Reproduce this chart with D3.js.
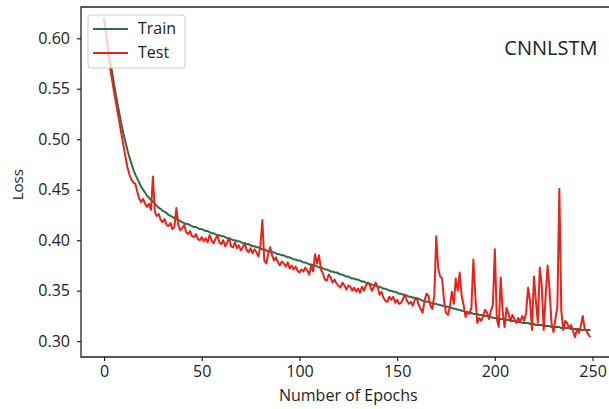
<!DOCTYPE html>
<html>
<head>
<meta charset="utf-8">
<script src="https://cdn.jsdelivr.net/npm/d3@7"></script>
<style>
body { margin: 0; background: #fff; overflow: hidden; }
svg { display: block; overflow: hidden; }
text { font-family: "Open Sans", "Noto Sans", sans-serif; fill: #222; }
</style>
</head>
<body>
<div id="chart"></div>
<script>
// loss per epoch (epochs 0..249)
let trainLoss = [
0.620,0.605,0.592,0.580,0.568,0.556,0.545,0.534,0.524,0.514,
0.505,0.497,0.489,0.482,0.476,0.470,0.465,0.461,0.457,0.453,
0.450,0.447,0.444,0.442,0.440,0.438,0.436,0.434,0.432,0.431,
0.429,0.428,0.427,0.425,0.424,0.423,0.422,0.421,0.420,0.419,
0.418,0.417,0.416,0.416,0.415,0.414,0.413,0.413,0.412,0.411,
0.411,0.410,0.409,0.409,0.408,0.407,0.407,0.406,0.405,0.405,
0.404,0.404,0.403,0.402,0.402,0.401,0.400,0.400,0.399,0.399,
0.398,0.397,0.397,0.396,0.396,0.395,0.394,0.394,0.393,0.393,
0.392,0.391,0.391,0.390,0.389,0.389,0.388,0.388,0.387,0.386,
0.386,0.385,0.385,0.384,0.383,0.383,0.382,0.381,0.381,0.380,
0.380,0.379,0.378,0.378,0.377,0.376,0.376,0.375,0.375,0.374,
0.373,0.373,0.372,0.371,0.371,0.370,0.369,0.369,0.368,0.368,
0.367,0.366,0.366,0.365,0.364,0.364,0.363,0.362,0.362,0.361,
0.361,0.360,0.359,0.359,0.358,0.357,0.357,0.356,0.355,0.355,
0.354,0.354,0.353,0.352,0.352,0.351,0.350,0.350,0.349,0.349,
0.348,0.347,0.347,0.346,0.346,0.345,0.344,0.344,0.343,0.343,
0.342,0.342,0.341,0.340,0.340,0.339,0.339,0.338,0.338,0.337,
0.337,0.336,0.336,0.335,0.335,0.334,0.334,0.333,0.333,0.332,
0.332,0.331,0.331,0.330,0.330,0.329,0.329,0.328,0.328,0.327,
0.327,0.327,0.326,0.326,0.325,0.325,0.325,0.324,0.324,0.323,
0.323,0.323,0.322,0.322,0.322,0.321,0.321,0.321,0.320,0.320,
0.320,0.319,0.319,0.319,0.318,0.318,0.318,0.318,0.317,0.317,
0.317,0.316,0.316,0.316,0.316,0.315,0.315,0.315,0.315,0.314,
0.314,0.314,0.314,0.314,0.313,0.313,0.313,0.313,0.313,0.312,
0.312,0.312,0.312,0.312,0.311,0.311,0.311,0.311,0.311,0.311
];
let testLoss = [
0.620,0.603,0.587,0.572,0.560,0.548,0.537,0.526,0.515,0.504,
0.493,0.482,0.472,0.465,0.460,0.457,0.456,0.448,0.441,0.438,
0.441,0.436,0.433,0.436,0.430,0.463,0.428,0.424,0.426,0.420,
0.418,0.421,0.415,0.414,0.417,0.411,0.413,0.432,0.415,0.410,
0.412,0.415,0.408,0.406,0.409,0.404,0.403,0.406,0.401,0.400,
0.403,0.399,0.402,0.398,0.405,0.400,0.397,0.401,0.405,0.398,
0.396,0.400,0.394,0.398,0.402,0.394,0.393,0.398,0.392,0.395,
0.390,0.393,0.397,0.390,0.388,0.392,0.387,0.391,0.388,0.384,
0.394,0.420,0.380,0.377,0.386,0.393,0.385,0.380,0.383,0.378,
0.375,0.379,0.377,0.374,0.378,0.372,0.375,0.371,0.374,0.370,
0.368,0.371,0.369,0.373,0.370,0.366,0.375,0.369,0.386,0.377,
0.385,0.371,0.367,0.361,0.360,0.366,0.363,0.358,0.361,0.357,
0.355,0.353,0.358,0.355,0.351,0.355,0.354,0.350,0.353,0.349,
0.352,0.348,0.354,0.350,0.355,0.358,0.356,0.350,0.353,0.358,
0.354,0.346,0.349,0.343,0.340,0.339,0.344,0.341,0.344,0.338,
0.341,0.337,0.338,0.342,0.346,0.340,0.337,0.339,0.335,0.341,
0.343,0.336,0.332,0.328,0.340,0.347,0.345,0.335,0.332,0.345,
0.404,0.372,0.364,0.362,0.340,0.328,0.326,0.334,0.349,0.337,
0.362,0.350,0.368,0.345,0.336,0.324,0.329,0.327,0.333,0.381,
0.345,0.318,0.323,0.320,0.325,0.331,0.328,0.322,0.330,0.336,
0.391,0.322,0.314,0.363,0.329,0.314,0.333,0.327,0.320,0.326,
0.322,0.318,0.323,0.319,0.325,0.320,0.328,0.353,0.340,0.311,
0.364,0.340,0.318,0.373,0.355,0.311,0.345,0.375,0.350,0.318,
0.309,0.322,0.334,0.451,0.330,0.311,0.320,0.318,0.313,0.316,
0.310,0.304,0.312,0.308,0.315,0.325,0.312,0.310,0.306,0.304
];
let seriesNames = ["Train", "Test"];
let seriesColors = ["#2f6b47", "#e8231b"];
let xTicks = [0, 50, 100, 150, 200, 250];
let yTicks = [0.30, 0.35, 0.40, 0.45, 0.50, 0.55, 0.60];
let modelName = "CNNLSTM";

function chartConfig(){
    let width = 609, height = 409;
    // plot box; the right spine falls outside the picture
    let margin = { left: 81, top: 7, right: -7, bottom: 52 };
    let bodyWidth = width - margin.left - margin.right;
    let bodyHeight = height - margin.top - margin.bottom;
    let svg = d3.select("#chart").append("svg")
        .attr("width", width)
        .attr("height", height);
    let container = svg.append("g")
        .attr("transform", "translate(" + [margin.left, margin.top] + ")");
    return { width, height, margin, bodyWidth, bodyHeight, svg, container };
}

function chartScales(config){
    let { bodyWidth, bodyHeight } = config;
    let xScale = d3.scaleLinear().domain([-11.8, 262]).range([0, bodyWidth]);
    let yScale = d3.scaleLinear().domain([0.2843, 0.631]).range([bodyHeight, 0]);
    return { xScale, yScale };
}

function drawChart(config, scales){
    let { container, svg, bodyWidth, bodyHeight, margin } = config;
    let { xScale, yScale } = scales;

    container.append("clipPath").attr("id", "plotclip")
        .append("rect").attr("width", bodyWidth).attr("height", bodyHeight);

    let line = d3.line()
        .x((d, i) => xScale(i))
        .y(d => yScale(d));

    [trainLoss, testLoss].forEach((s, k) => {
        container.append("path")
            .datum(s)
            .attr("clip-path", "url(#plotclip)")
            .attr("fill", "none")
            .attr("stroke", seriesColors[k])
            .attr("stroke-width", 2)
            .attr("stroke-linejoin", "round")
            .attr("d", line);
    });

    // axes
    let axisX = d3.axisBottom(xScale).tickValues(xTicks).tickSize(4).tickPadding(5);
    let gx = container.append("g")
        .attr("transform", "translate(0," + bodyHeight + ")")
        .call(axisX);
    let axisY = d3.axisLeft(yScale).tickValues(yTicks).tickFormat(d3.format(".2f")).tickSize(4).tickPadding(7);
    let gy = container.append("g").call(axisY);
    [gx, gy].forEach(g => {
        g.select(".domain").remove();
        g.selectAll("line").attr("stroke", "#222").attr("stroke-width", 1.2);
        g.selectAll("text").style("font-size", "16px").attr("fill", "#222");
    });

    // frame: left, top and bottom spines (right one is cropped off)
    let w = bodyWidth + 10;
    container.append("path")
        .attr("d", "M" + w + ",0H0V" + bodyHeight + "H" + w)
        .attr("fill", "none").attr("stroke", "#222").attr("stroke-width", 1.3);

    svg.append("text")
        .attr("x", margin.left + xScale(125))
        .attr("y", 401)
        .style("text-anchor", "middle")
        .style("font-size", "16px")
        .text("Number of Epochs");

    svg.append("text")
        .attr("transform", "translate(23," + (margin.top + yScale(0.455)) + ") rotate(-90)")
        .style("text-anchor", "middle")
        .style("font-size", "15px")
        .text("Loss");

    container.append("text")
        .attr("x", xScale(252.5))
        .attr("y", 48)
        .style("text-anchor", "end")
        .style("font-size", "20px")
        .text(modelName);
}

function legend(config){
    let { container } = config;
    let lg = container.append("g").attr("transform", "translate(7,8)");
    lg.append("rect")
        .attr("width", 97).attr("height", 53).attr("rx", 3)
        .attr("fill", "#fff").attr("fill-opacity", 0.8)
        .attr("stroke", "#ccc");
    seriesNames.forEach((name, i) => {
        let y = 14 + i * 24;
        lg.append("line")
            .attr("x1", 5).attr("x2", 40)
            .attr("y1", y).attr("y2", y)
            .attr("stroke", seriesColors[i]).attr("stroke-width", 2);
        lg.append("text")
            .attr("x", 50).attr("y", y + 5)
            .style("font-size", "16px")
            .text(name);
    });
}

let config = chartConfig();
let scales = chartScales(config);
drawChart(config, scales);
legend(config);
</script>
</body>
</html>
